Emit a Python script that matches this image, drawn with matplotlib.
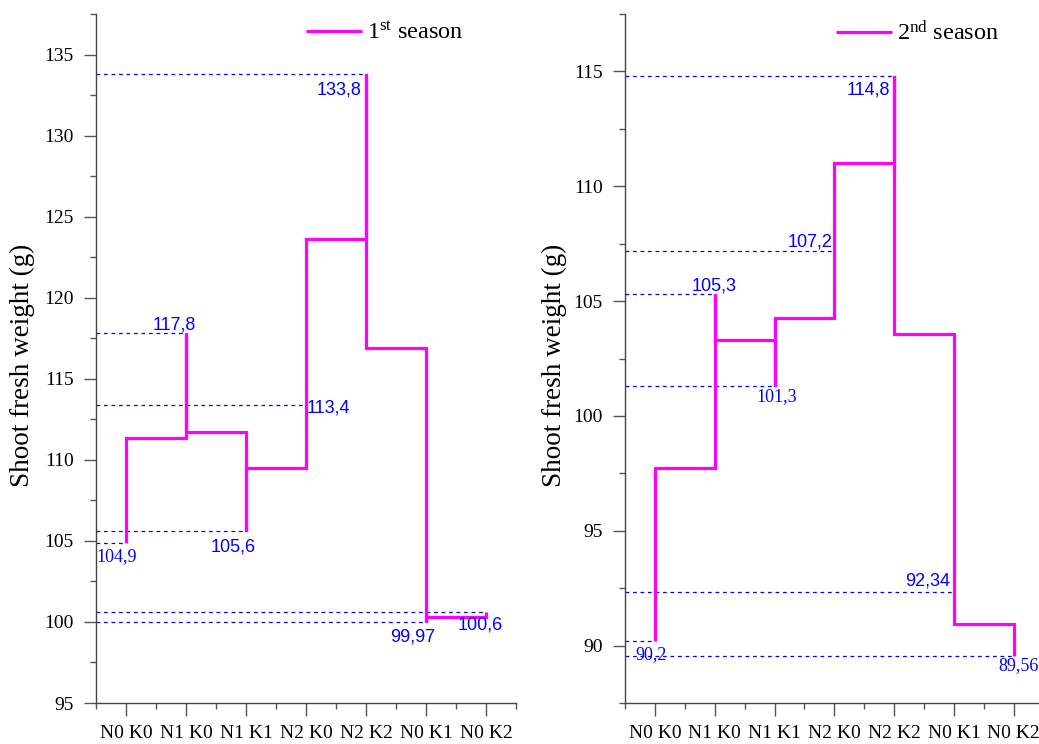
import matplotlib
matplotlib.use("Agg")
import matplotlib.pyplot as plt
from matplotlib.ticker import MultipleLocator, FixedLocator

# Treatments and shoot fresh weight (g) for the two seasons
treatments = ["N0 K0", "N1 K0", "N1 K1", "N2 K0", "N2 K2", "N0 K1", "N0 K2"]
season1 = [104.9, 117.8, 105.6, 113.4, 133.8, 99.97, 100.6]
season2 = [90.2, 105.3, 101.3, 107.2, 114.8, 92.34, 89.56]
season1_labels = ["104,9", "117,8", "105,6", "113,4", "133,8", "99,97", "100,6"]
season2_labels = ["90,2", "105,3", "101,3", "107,2", "114,8", "92,34", "89,56"]

MAGENTA = "#ff00ff"
BLUE = "#0000ff"
SERIF = "Liberation Serif"
SANS = "Liberation Sans"

plt.rcParams["font.family"] = SERIF
plt.rcParams["mathtext.fontset"] = "custom"
plt.rcParams["mathtext.rm"] = SERIF
plt.rcParams["mathtext.it"] = SERIF

# value label placement: (dx px, dy px, ha, va, family)
place1 = [(-30, -6, "left", "top", SERIF),
          (10, 0, "right", "bottom", SANS),
          (10, -7, "right", "top", SANS),
          (1, -3, "left", "center", SANS),
          (-5, -8, "right", "top", SANS),
          (9, -6, "right", "top", SANS),
          (17, -4, "right", "top", SANS)]
place2 = [(-20, -5, "left", "top", SERIF),
          (22, 0, "right", "bottom", SANS),
          (2, -2, "center", "top", SERIF),
          (-2, 0, "right", "bottom", SANS),
          (-4, -5, "right", "top", SANS),
          (-4, 2, "right", "bottom", SANS),
          (25, -1, "right", "top", SERIF)]


def step_path(values):
    """Vertical steps: each treatment rises/falls to the midpoint with its neighbour."""
    xs, ys = [], []
    n = len(values)
    for i, v in enumerate(values):
        xs.append(i + 1)
        ys.append(v)
        if i < n - 1:
            mid = (v + values[i + 1]) / 2.0
            xs += [i + 1, i + 2]
            ys += [mid, mid]
    return xs, ys


def draw_panel(ax, values, labels, place, ylim, xmax, legend_text, leg_x):
    x_left = 0.5
    # dashed reference lines from the y axis to each treatment value
    for i, v in enumerate(values):
        ax.plot([x_left, i + 1], [v, v], color=BLUE, lw=0.9,
                dashes=(3.0, 3.0), zorder=2)
    xs, ys = step_path(values)
    ax.plot(xs, ys, color=MAGENTA, lw=2.3, solid_joinstyle="miter",
            solid_capstyle="butt", zorder=3, label=legend_text)
    for i, (v, lab) in enumerate(zip(values, labels)):
        dx, dy, ha, va, fam = place[i]
        ax.annotate(lab, (i + 1, v), xytext=(dx * 0.72, dy * 0.72),
                    textcoords="offset points", ha=ha, va=va, color=BLUE,
                    fontsize=13, family=fam, zorder=4)

    ax.set_xlim(x_left, xmax)
    ax.set_ylim(*ylim)
    ax.xaxis.set_major_locator(FixedLocator(range(1, len(values) + 1)))
    ax.xaxis.set_minor_locator(FixedLocator([k + 0.5 for k in range(0, len(values) + 1)]))
    ax.set_xticklabels(treatments)
    ax.yaxis.set_major_locator(MultipleLocator(5))
    ax.yaxis.set_minor_locator(MultipleLocator(2.5))
    for s in ("top", "right"):
        ax.spines[s].set_visible(False)
    for s in ("left", "bottom"):
        ax.spines[s].set_color("#444444")
        ax.spines[s].set_linewidth(1.0)
    ax.tick_params(which="major", length=9, width=1.0, color="#555555",
                   labelsize=14, pad=7)
    ax.tick_params(which="minor", length=4.5, width=1.0, color="#555555")
    ax.tick_params(axis="y", which="major", pad=7)
    ax.set_ylabel("Shoot fresh weight (g)", fontsize=19.5)
    ax.legend(loc="center left", bbox_to_anchor=(leg_x, 0.972), frameon=False,
              fontsize=17.5, borderpad=0, borderaxespad=0, handlelength=2.3,
              handletextpad=0.2)


fig = plt.figure(figsize=(10.39, 7.44), dpi=100)
W, H = 1039, 744
ax1 = fig.add_axes([96 / W, 1 - 703 / H, 420 / W, 689 / H])
ax2 = fig.add_axes([625 / W, 1 - 703 / H, 414 / W, 689 / H])

draw_panel(ax1, season1, season1_labels, place1, (95, 137.5), 7.5,
           r"1$^{\mathrm{st}}$ season", 0.5)
draw_panel(ax2, season2, season2_labels, place2, (87.5, 117.5), 7.42,
           r"2$^{\mathrm{nd}}$ season", 0.51)
ax1.yaxis.set_label_coords(-0.145, 0.49)
ax2.yaxis.set_label_coords(-0.14, 0.49)

fig.savefig("out.png", dpi=100)
